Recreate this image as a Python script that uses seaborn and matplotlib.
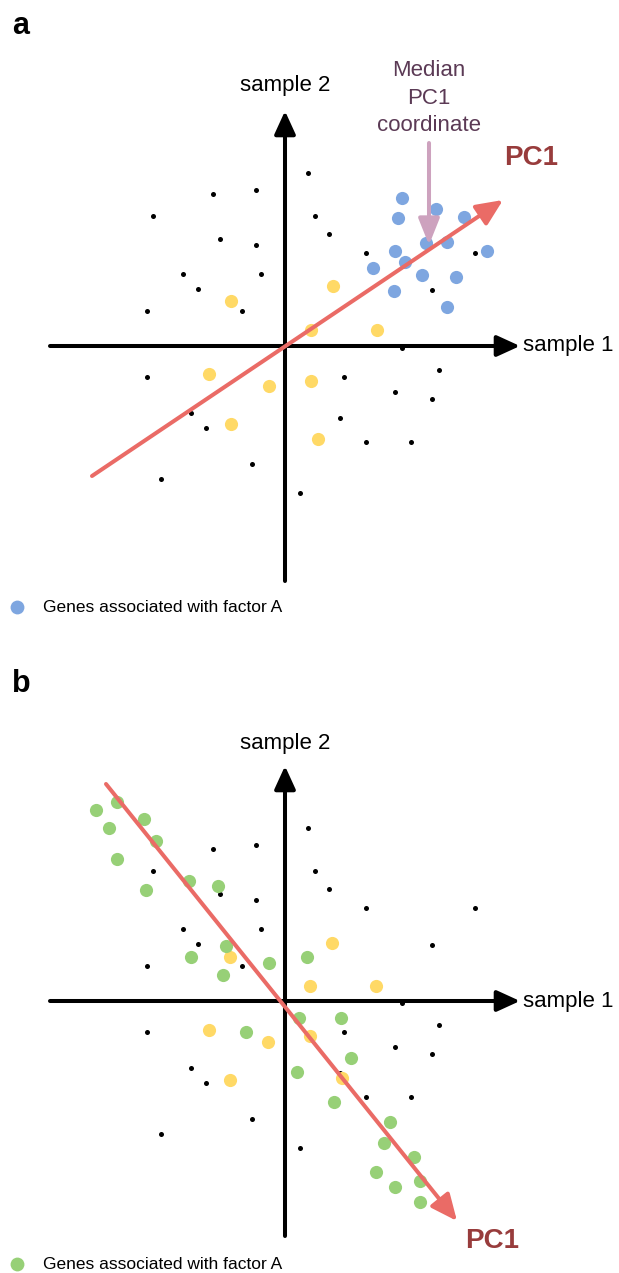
import matplotlib
matplotlib.use("Agg")
import matplotlib.pyplot as plt
import seaborn as sns
import numpy as np

sns.set_style("white")
plt.rcParams['font.family'] = ['Liberation Sans', 'DejaVu Sans']
plt.rcParams['text.color'] = 'black'

# ---- data (sample 1 / sample 2 coordinates) ----
black_x = [2.3, -7.2, -2.9, -13.2, 3.0, -6.5, -2.9, 4.4, 8.1, 19.0, -10.2, -2.4, -8.7, 14.7, -13.8,
           -4.3, 11.7, -13.8, 5.9, 15.4, 11.0, 14.7, -9.4, -7.9, 5.5, 8.1, 12.6, -3.3, -12.4, 1.5]
black_y = [17.3, 15.2, 15.6, 13.0, 13.0, 10.7, 10.1, 11.2, 9.3, 9.3, 7.2, 7.2, 5.7, 5.6, 3.5,
           3.5, -0.2, -3.1, -3.1, -2.4, -4.6, -5.3, -6.7, -8.2, -7.2, -9.6, -9.6, -11.8, -13.3, -14.7]

blue_x = [11.7, 15.1, 11.3, 17.9, 11.0, 14.1, 16.2, 20.2, 12.0, 8.8, 13.7, 17.1, 10.9, 16.2]
blue_y = [14.8, 13.7, 12.8, 12.9, 9.5, 10.3, 10.4, 9.5, 8.4, 7.8, 7.1, 6.9, 5.5, 3.9]

yellow_a_x = [-5.4, 4.8, 2.6, 9.2, -7.6, -1.6, 2.6, -5.4, 3.3]
yellow_a_y = [4.5, 6.0, 1.6, 1.6, -2.8, -4.0, -3.5, -7.8, -9.3]

yellow_b_x = [4.7, -5.5, 2.5, 9.1, -7.6, -1.7, 2.5, -5.5, 5.7]
yellow_b_y = [5.8, 4.4, 1.5, 1.5, -2.9, -4.1, -3.5, -7.9, -7.7]

green_x = [-18.9, -16.8, -14.1, -17.6, -12.9, -16.8, -9.6, -6.7, -13.9, -5.9, -9.4, -1.6, 2.2, -6.2,
           1.4, 5.6, -3.9, 6.6, 1.2, 4.9, 10.5, 9.9, 12.9, 9.1, 13.5, 11.0, 13.5]
green_y = [19.1, 19.9, 18.2, 17.3, 16.0, 14.2, 12.0, 11.5, 11.1, 5.5, 4.4, 3.8, 4.4, 2.6,
           -1.7, -1.7, -3.1, -5.7, -7.1, -10.1, -12.1, -14.2, -15.6, -17.1, -18.0, -18.6, -20.1]

pc1_a = [(-19.3, -13.0), (21.8, 14.6)]
pc1_b = [(-17.9, 21.7), (17.2, -22.0)]
median_pc1_x = 14.4

legend_label = "Genes associated with factor A"

# ---- colours ----
C_BLUE = "#7ea6e0"
C_YELLOW = "#ffd966"
C_GREEN = "#97d077"
C_RED = "#ea6b66"
C_PC1TXT = "#983c3c"
C_MED = "#cda2be"
C_MEDTXT = "#5b3a55"

W, H = 619, 1273
fig = plt.figure(figsize=(W / 100, H / 100), dpi=100)

ax_a = fig.add_axes([0, 1 - 650 / H, 1, 650 / H])
ax_b = fig.add_axes([0, 0, 1, 623 / H])
ax_a.set_xlim(-28.5, 33.4)
ax_a.set_ylim(-30.4, 34.6)
ax_b.set_xlim(-28.5, 33.4)
ax_b.set_ylim(-27.2, 35.1)

AX_EXT = 23.5


def draw_axes(ax, s2y):
    kw = dict(arrowstyle='-|>,head_length=0.7,head_width=0.32', color='black', lw=2.9,
              mutation_scale=20, shrinkA=0, shrinkB=0)
    ax.annotate('', xy=(AX_EXT, 0), xytext=(-AX_EXT, 0), arrowprops=kw, zorder=1)
    ax.annotate('', xy=(0, AX_EXT), xytext=(0, -AX_EXT), arrowprops=kw, zorder=1)
    ax.text(AX_EXT + 0.3, 0, "sample 1", fontsize=16, ha='left', va='center', color='black')
    ax.text(0, s2y, "sample 2", fontsize=16, ha='center', va='center', color='black')


def draw_pc1(ax, pts):
    ax.annotate('', xy=pts[1], xytext=pts[0],
                arrowprops=dict(arrowstyle='-|>,head_length=0.8,head_width=0.36', color=C_RED,
                                lw=2.9, mutation_scale=20, shrinkA=0, shrinkB=0), zorder=5)


for ax in (ax_a, ax_b):
    ax.set_axis_off()

# ---- panel a ----
draw_axes(ax_a, 26.0)
sns.scatterplot(x=black_x, y=black_y, ax=ax_a, color='black', s=13, linewidth=0, zorder=3)
sns.scatterplot(x=yellow_a_x, y=yellow_a_y, ax=ax_a, color=C_YELLOW, s=90, linewidth=0, zorder=3)
sns.scatterplot(x=blue_x, y=blue_y, ax=ax_a, color=C_BLUE, s=90, linewidth=0, zorder=3,
                label=legend_label)
draw_pc1(ax_a, pc1_a)
ax_a.annotate('', xy=(median_pc1_x, 10.1), xytext=(median_pc1_x, 20.3),
              arrowprops=dict(arrowstyle='-|>,head_length=0.8,head_width=0.32', color=C_MED,
                              lw=2.9, mutation_scale=20, shrinkA=0, shrinkB=0), zorder=6)
ax_a.text(median_pc1_x, 24.8, "Median\nPC1\ncoordinate", fontsize=16, ha='center', va='center',
          color=C_MEDTXT, linespacing=1.42)
ax_a.text(24.6, 18.8, "PC1", fontsize=20, fontweight='bold', color=C_PC1TXT, ha='center', va='center')

# ---- panel b ----
draw_axes(ax_b, 25.8)
sns.scatterplot(x=black_x, y=black_y, ax=ax_b, color='black', s=13, linewidth=0, zorder=3)
sns.scatterplot(x=yellow_b_x, y=yellow_b_y, ax=ax_b, color=C_YELLOW, s=90, linewidth=0, zorder=3)
sns.scatterplot(x=green_x, y=green_y, ax=ax_b, color=C_GREEN, s=90, linewidth=0, zorder=3,
                label=legend_label)
draw_pc1(ax_b, pc1_b)
ax_b.text(20.7, -24.0, "PC1", fontsize=20, fontweight='bold', color=C_PC1TXT, ha='center', va='center')

# ---- legends ----
for ax, ypix in ((ax_a, 607), (ax_b, 1264)):
    leg = ax.legend(loc='center left', bbox_to_anchor=(8.3 / W, 1 - ypix / H), bbox_transform=fig.transFigure,
                    frameon=False, fontsize=12.5, borderpad=0, borderaxespad=0, handlelength=1.0,
                    handletextpad=1.0, markerscale=1.05)
    for t in leg.get_texts():
        t.set_color('black')

# ---- panel letters ----
fig.text(12 / W, 1 - 34 / H, "a", fontsize=22, fontweight='bold', ha='left', va='baseline', color='black')
fig.text(12 / W, 1 - 692 / H, "b", fontsize=22, fontweight='bold', ha='left', va='baseline', color='black')

fig.savefig("out.png", dpi=100)
